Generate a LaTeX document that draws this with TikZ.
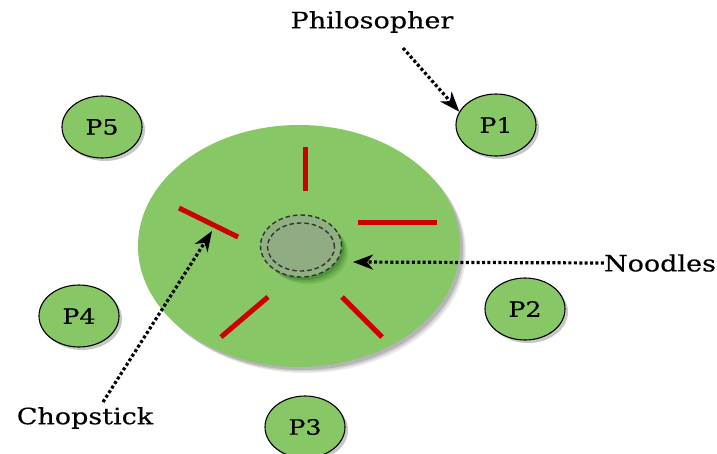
\documentclass[tikz,border=0pt]{standalone}
\usepackage{fontspec}
\newfontfamily\lblfont[FakeStretch=1.2, FakeBold=0.4]{DejaVu Serif}
\usetikzlibrary{shapes.geometric,arrows.meta,shadows}
\definecolor{tablegreen}{HTML}{88C766}
\definecolor{chopred}{HTML}{CC0000}
\definecolor{bowlfill}{HTML}{8FB07F}
\definecolor{noodlefill}{HTML}{90AC82}
\begin{document}
\begin{tikzpicture}[x=1pt,y=-1pt,
  phil/.style={ellipse, draw=black, line width=1.1pt, fill=tablegreen,
    minimum width=80pt, minimum height=62pt, inner sep=0pt,
    font=\lblfont\fontsize{21}{21}\selectfont,
    drop shadow={shadow xshift=3pt, shadow yshift=-3pt, fill=black, opacity=0.22}},
  chop/.style={draw=chopred, line width=5pt},
  dashring/.style={ellipse, draw=black!80, line width=1.4pt,
    dash pattern=on 4.5pt off 3pt, inner sep=0pt},
  lbl/.style={font=\lblfont\fontsize{22.5}{22.5}\selectfont, inner sep=0pt},
  ptr/.style={line width=3.2pt, dash pattern=on 3pt off 2.4pt,
    -{Stealth[length=20pt, width=15pt, inset=6pt]}}]
\useasboundingbox (0,0) rectangle (717,453);

% table shadow, softened by layering
\foreach \d/\o in {6/0.08, 4.5/0.1, 3/0.14}
  \fill[black, opacity=\o] (299+\d,246+\d) ellipse [x radius=161pt, y radius=121pt];
\node[ellipse, fill=tablegreen, minimum width=322pt, minimum height=242pt, inner sep=0pt]
  (table) at (299,246) {};

% bowl of noodles
\foreach \d/\o in {7/0.12, 5/0.15, 3/0.2}
  \fill[black!70!green, opacity=\o] (301+\d,246+\d) ellipse [x radius=40pt, y radius=31pt];
\node[dashring, fill=bowlfill, minimum width=81pt, minimum height=62pt] (bowl) at (301,246) {};
\node[dashring, fill=noodlefill, minimum width=67pt, minimum height=48pt] (noodles) at (301,247) {};

% chopsticks
\draw[chop] (305,147) coordinate (c1a) -- (305,191) coordinate (c1b);
\draw[chop] (358,222) coordinate (c2a) -- (437,222) coordinate (c2b);
\draw[chop] (342,297) coordinate (c3a) -- (382,337) coordinate (c3b);
\draw[chop] (268,297) coordinate (c4a) -- (221,337) coordinate (c4b);
\draw[chop] (179,208) coordinate (c5a) -- (238,237) coordinate (c5b);

% philosophers
\node[phil] (p1) at (496,125) {P1};
\node[phil] (p2) at (525,309) {P2};
\node[phil] (p3) at (305,427) {P3};
\node[phil] (p4) at (79,316) {P4};
\node[phil] (p5) at (102,127) {P5};

% labels
\node[lbl] (philo) at (372,22) {Philosopher};
\node[lbl] (nlabel) at (660,263) {Noodles};
\node[lbl] (clabel) at (85,418) {Chopstick};

\coordinate (philoTail) at (403,48);
\coordinate (noodleTip) at (353,262);
\coordinate (chopTail) at (103,402);
\coordinate (chopTip) at (212,231);

\draw[ptr] (philoTail) -- (p1.160);
\draw[ptr] (nlabel.west) -- (noodleTip);
\draw[ptr] (chopTail) -- (chopTip);
\end{tikzpicture}
\end{document}
